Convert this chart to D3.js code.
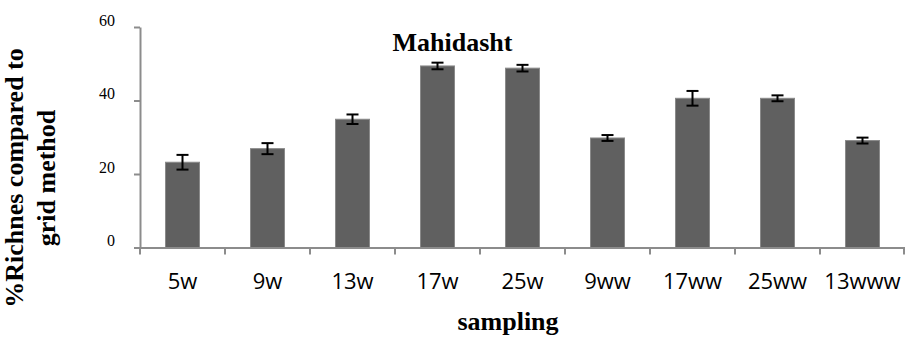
<!DOCTYPE html>
<html>
<head>
<meta charset="utf-8">
<script src="https://cdn.jsdelivr.net/npm/d3@7"></script>
<style>
  body { margin: 0; background: #fff; }
  svg { display: block; }
</style>
</head>
<body>
<svg width="905" height="337"></svg>
<script>
'use strict';

// data
const categories = ["5w", "9w", "13w", "17w", "25w", "9ww", "17ww", "25ww", "13www"];
const values = [23.2, 26.9, 34.9, 49.4, 48.8, 29.8, 40.6, 40.6, 29.1];
const errors = [2.0, 1.5, 1.3, 0.9, 0.9, 0.8, 2.0, 0.8, 0.8];
const yTicks = [0, 20, 40, 60];

const svg = d3.select("svg");
const width = parseFloat(svg.attr("width"));

const plotLeft = 140, plotRight = 905, plotTop = 27, plotBottom = 247.5;
const axisGrey = "#8c8c8c";

const x = d3.scaleBand()
    .domain(categories)
    .range([plotLeft, plotRight])
    .paddingInner(0.6)
    .paddingOuter(0.3);

const y = d3.scaleLinear()
    .domain([0, 60])
    .range([plotBottom, plotTop]);

const rows = categories.map((c, i) => ({cat: c, v: values[i], e: errors[i]}));

// bars
svg.append("g")
  .selectAll("rect")
  .data(rows)
  .join("rect")
    .attr("x", d => x(d.cat))
    .attr("y", d => y(d.v))
    .attr("width", x.bandwidth())
    .attr("height", d => y(0) - y(d.v))
    .attr("fill", "#606060")
    .attr("stroke", "#8a8a8a")
    .attr("stroke-width", 1);

// error bars
const eg = svg.append("g")
    .attr("stroke", "#000")
    .attr("stroke-width", 2);
const cx = d => x(d.cat) + x.bandwidth() / 2;
const capW = 6;
eg.selectAll("line.v").data(rows).join("line")
    .attr("class", "v")
    .attr("x1", cx).attr("x2", cx)
    .attr("y1", d => y(d.v + d.e)).attr("y2", d => y(d.v - d.e));
eg.selectAll("line.t").data(rows).join("line")
    .attr("class", "t")
    .attr("x1", d => cx(d) - capW).attr("x2", d => cx(d) + capW)
    .attr("y1", d => y(d.v + d.e)).attr("y2", d => y(d.v + d.e));
eg.selectAll("line.b").data(rows).join("line")
    .attr("class", "b")
    .attr("x1", d => cx(d) - capW).attr("x2", d => cx(d) + capW)
    .attr("y1", d => y(d.v - d.e)).attr("y2", d => y(d.v - d.e));

// y axis
const yAxis = svg.append("g")
    .attr("transform", `translate(${plotLeft},0)`)
    .call(d3.axisLeft(y).tickValues(yTicks).tickSize(6).tickPadding(19).tickSizeOuter(0));
yAxis.select(".domain").attr("stroke", axisGrey).attr("stroke-width", 2);
yAxis.selectAll(".tick line").attr("stroke", axisGrey).attr("stroke-width", 2);
yAxis.selectAll(".tick text")
    .attr("font-family", "'Liberation Serif', 'Times New Roman', serif")
    .attr("font-size", 16)
    .attr("fill", "#000")
    .attr("dy", "-0.1em");

// x axis
const xAxis = svg.append("g")
    .attr("transform", `translate(0,${plotBottom})`)
    .call(d3.axisBottom(x).tickSize(0).tickPadding(26).tickSizeOuter(0));
xAxis.select(".domain").attr("stroke", axisGrey).attr("stroke-width", 2);
xAxis.selectAll(".tick text")
    .attr("font-family", "'Open Sans', sans-serif")
    .attr("font-size", 22)
    .attr("fill", "#000");

// tick marks between categories
const bounds = d3.range(categories.length + 1).map(i => plotLeft + i * x.step());
xAxis.selectAll("line.sep").data(bounds).join("line")
    .attr("class", "sep")
    .attr("x1", d => Math.min(d, plotRight - 1)).attr("x2", d => Math.min(d, plotRight - 1))
    .attr("y1", 0).attr("y2", 7)
    .attr("stroke", axisGrey)
    .attr("stroke-width", 2);

// titles
const serifBold = "'Liberation Serif', 'Times New Roman', serif";
svg.append("text")
    .attr("x", width / 2)
    .attr("y", 51)
    .attr("text-anchor", "middle")
    .attr("font-family", serifBold)
    .attr("font-weight", "bold")
    .attr("font-size", 26)
    .text("Mahidasht");

svg.append("text")
    .attr("x", 508)
    .attr("y", 330)
    .attr("text-anchor", "middle")
    .attr("font-family", serifBold)
    .attr("font-weight", "bold")
    .attr("font-size", 26)
    .text("sampling");

const yTitle = svg.append("text")
    .attr("transform", "translate(0,178) rotate(-90)")
    .attr("text-anchor", "middle")
    .attr("font-family", serifBold)
    .attr("font-weight", "bold")
    .attr("font-size", 26);
yTitle.append("tspan").attr("x", 0).attr("y", 23).text("%Richnes compared to");
yTitle.append("tspan").attr("x", 0).attr("y", 55).text("grid method");
</script>
</body>
</html>
